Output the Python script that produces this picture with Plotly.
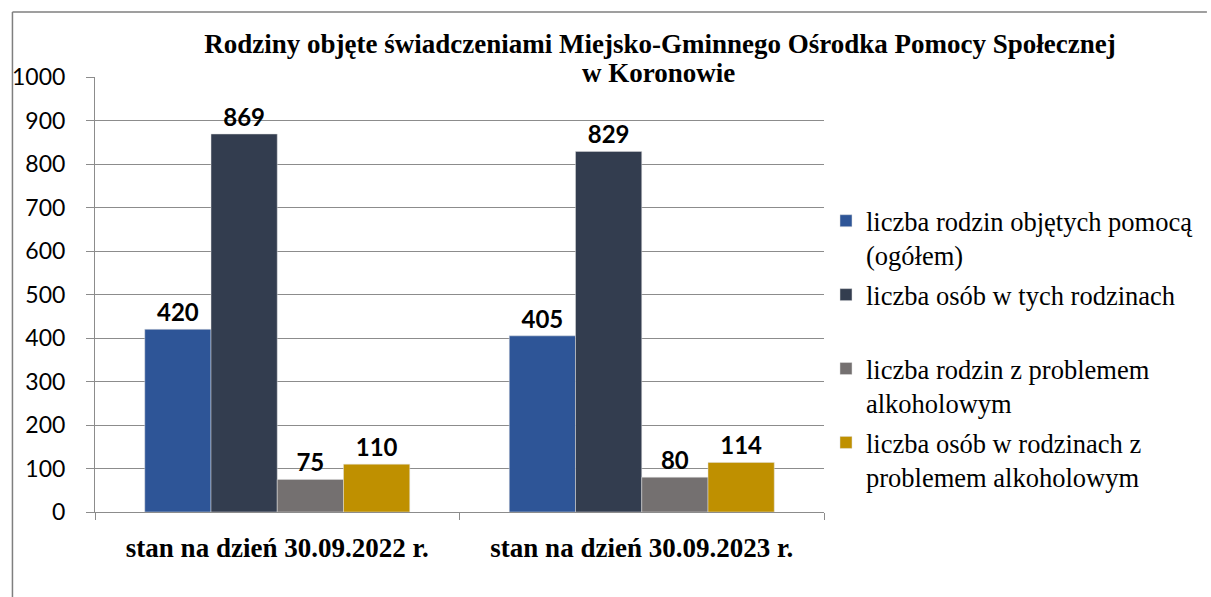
import plotly.graph_objects as go

categories = ["stan na dzień 30.09.2022 r.", "stan na dzień 30.09.2023 r."]
series_names = [
    "liczba rodzin objętych pomocą<br>(ogółem)",
    "liczba osób w tych rodzinach<br>\u00a0",
    "liczba rodzin z problemem<br>alkoholowym",
    "liczba osób w rodzinach z<br>problemem alkoholowym",
]
rodziny_ogolem = [420, 405]
osoby_w_rodzinach = [869, 829]
rodziny_alkohol = [75, 80]
osoby_alkohol = [110, 114]
y_ticks = [0, 100, 200, 300, 400, 500, 600, 700, 800, 900, 1000]
title_line1 = "Rodziny objęte świadczeniami Miejsko-Gminnego Ośrodka Pomocy Społecznej"
title_line2 = "w Koronowie"

colors = ["#2E5597", "#333D4F", "#747070", "#BF9000"]
values = [rodziny_ogolem, osoby_w_rodzinach, rodziny_alkohol, osoby_alkohol]

SERIF = "Liberation Serif"
SANS = "Lato"

fig = go.Figure()
for i, (name, vals, col) in enumerate(zip(series_names, values, colors)):
    fig.add_trace(go.Bar(
        x=categories, y=vals, name=name, legendgroup=f"g{i}",
        marker=dict(color=col, line=dict(color="#E0E0E0", width=0.5)),
        text=[f"<b>{v}</b>" for v in vals], textposition="outside",
        textfont=dict(family=SANS, size=24, color="black"),
        cliponaxis=False,
    ))

W, H = 1211, 597
L, R, T, B = 93, 826, 77, 512
def px(x):
    return (x - L) / (R - L)
def py(y):
    return (B - y) / (B - T)

fig.update_layout(
    width=W, height=H,
    margin=dict(l=L, r=W - R, t=T, b=H - B),
    paper_bgcolor="white", plot_bgcolor="white",
    barmode="group", bargap=0.273, bargroupgap=0,
    title=dict(
        text=f"<b>{title_line1}</b>",
        x=660 / W, xanchor="center", y=1 - 44 / H, yanchor="middle",
        font=dict(family=SERIF, size=27, color="black"),
    ),
    showlegend=True,
    legend=dict(
        x=px(828), y=py(197), xanchor="left", yanchor="top",
        font=dict(family=SERIF, size=26.5, color="black"),
        valign="top", tracegroupgap=2, bgcolor="rgba(0,0,0,0)",
        itemwidth=30,
    ),
    xaxis=dict(
        showline=True, linecolor="#8C8C8C", linewidth=1,
        ticks="outside", tickson="boundaries", ticklen=7, tickcolor="#8C8C8C",
        tickfont=dict(family=SERIF, size=27, color="black", weight="bold"),
        ticklabelstandoff=12,
        showgrid=False,
    ),
    yaxis=dict(
        range=[0, 1000], tickvals=y_ticks,
        showline=True, linecolor="#8C8C8C", linewidth=1,
        ticks="outside", ticklen=8, tickcolor="#8C8C8C",
        ticklabelstandoff=16,
        showgrid=True, gridcolor="#8C8C8C", gridwidth=1,
        tickfont=dict(family=SANS, size=23, color="black"),
        zeroline=False,
    ),
)

fig.add_annotation(
    text=f"<b>{title_line2}</b>", xref="paper", yref="paper",
    x=px(660), y=py(73), xanchor="center", yanchor="middle", showarrow=False,
    font=dict(family=SERIF, size=27, color="black"),
)

# outer chart frame
fig.add_shape(type="line", xref="paper", yref="paper",
              x0=px(10), x1=px(1211), y0=py(12), y1=py(12),
              line=dict(color="#7F7F7F", width=1.5))
fig.add_shape(type="line", xref="paper", yref="paper",
              x0=px(10), x1=px(10), y0=py(12), y1=py(597),
              line=dict(color="#7F7F7F", width=1.5))

fig.write_html("out.html", config={"displayModeBar": False},
               post_script="document.body.style.margin='0px';")
